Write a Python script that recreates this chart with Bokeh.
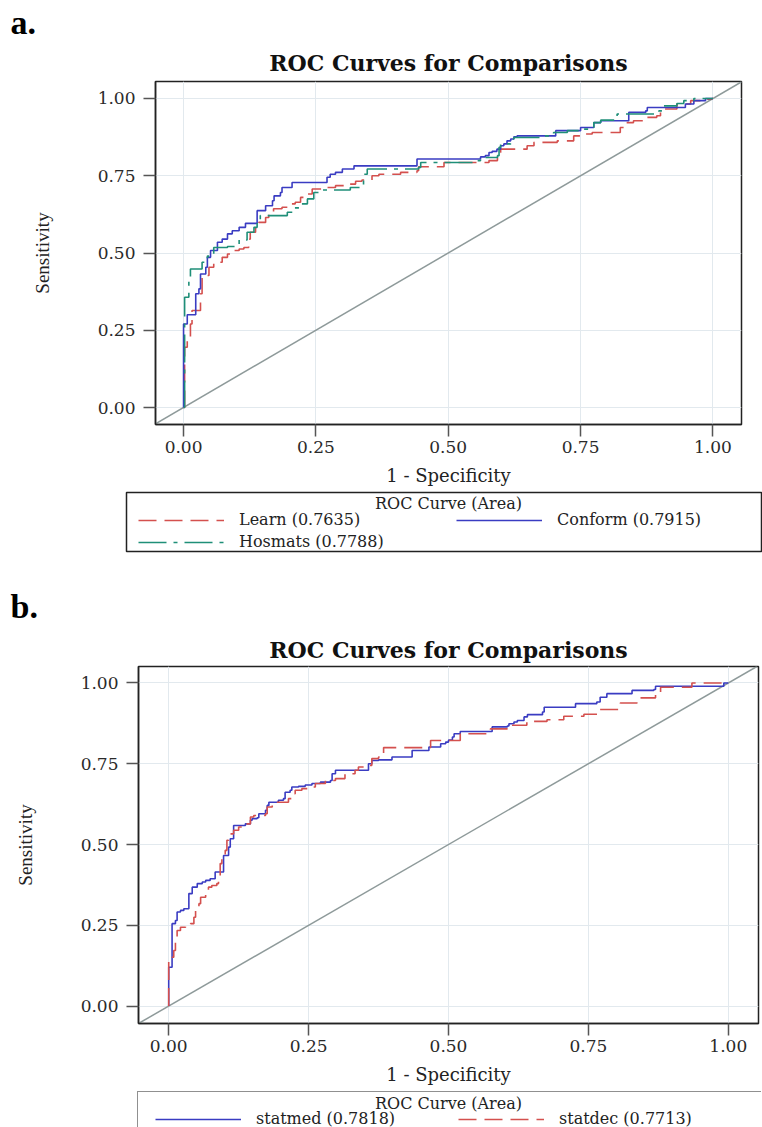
from bokeh.plotting import figure
from bokeh.models import (Range1d, FixedTicker, PrintfTickFormatter, Legend, LegendItem,
                          Title, Slope, Label)
from bokeh.embed import file_html
from bokeh.resources import INLINE

# ---------------- data ----------------
TICK_VALUES = [0.0, 0.25, 0.5, 0.75, 1.0]
TICK_LABELS = ["0.00", "0.25", "0.50", "0.75", "1.00"]

# panel a
learn_fpr = [0.000, 0.002, 0.007, 0.013, 0.016, 0.032, 0.035, 0.048, 0.057, 0.073,
             0.083, 0.092, 0.105, 0.114, 0.123, 0.126, 0.136, 0.142, 0.155, 0.161,
             0.170, 0.186, 0.199, 0.211, 0.221, 0.227, 0.243, 0.262, 0.287, 0.312,
             0.325, 0.337, 0.356, 0.369, 0.410, 0.441, 0.444, 0.492, 0.577, 0.593,
             0.599, 0.649, 0.662, 0.706, 0.737, 0.756, 0.772, 0.825, 0.832, 0.850,
             0.869, 0.894, 0.901, 0.907, 0.932, 0.958, 0.976, 0.998, 1.000]
learn_tpr = [0.000, 0.195, 0.227, 0.270, 0.314, 0.368, 0.427, 0.454, 0.470, 0.486,
             0.497, 0.508, 0.513, 0.518, 0.545, 0.567, 0.583, 0.599, 0.615, 0.632,
             0.643, 0.648, 0.659, 0.664, 0.680, 0.691, 0.707, 0.712, 0.718, 0.723,
             0.732, 0.736, 0.750, 0.755, 0.761, 0.766, 0.779, 0.793, 0.799, 0.825,
             0.836, 0.847, 0.858, 0.863, 0.879, 0.885, 0.890, 0.906, 0.922, 0.928,
             0.939, 0.944, 0.955, 0.966, 0.982, 0.993, 0.998, 1.000, 1.000]

conform_fpr = [0.000, 0.000, 0.007, 0.023, 0.029, 0.032, 0.042, 0.045, 0.051, 0.064,
               0.073, 0.083, 0.092, 0.105, 0.117, 0.139, 0.155, 0.168, 0.171, 0.183,
               0.186, 0.205, 0.271, 0.277, 0.287, 0.300, 0.322, 0.441, 0.561, 0.570,
               0.577, 0.583, 0.592, 0.599, 0.605, 0.611, 0.618, 0.624, 0.630, 0.703,
               0.750, 0.775, 0.788, 0.841, 0.873, 0.876, 0.948, 0.964, 0.986, 1.000]
conform_tpr = [0.000, 0.270, 0.300, 0.368, 0.384, 0.432, 0.454, 0.486, 0.508, 0.535,
               0.545, 0.562, 0.572, 0.583, 0.596, 0.637, 0.653, 0.669, 0.685, 0.696,
               0.712, 0.728, 0.745, 0.755, 0.761, 0.772, 0.782, 0.804, 0.811, 0.815,
               0.825, 0.829, 0.836, 0.847, 0.853, 0.863, 0.869, 0.876, 0.879, 0.896,
               0.906, 0.922, 0.928, 0.955, 0.960, 0.971, 0.982, 0.993, 1.000, 1.000]

hosmats_fpr = [0.000, 0.002, 0.010, 0.013, 0.035, 0.045, 0.051, 0.057, 0.083, 0.105,
               0.120, 0.133, 0.139, 0.145, 0.196, 0.208, 0.221, 0.234, 0.246, 0.259,
               0.315, 0.340, 0.347, 0.444, 0.448, 0.555, 0.561, 0.593, 0.596, 0.599,
               0.618, 0.624, 0.674, 0.699, 0.725, 0.750, 0.775, 0.788, 0.819, 0.898,
               0.907, 0.932, 0.945, 0.964, 1.000]
hosmats_tpr = [0.000, 0.357, 0.420, 0.448, 0.470, 0.490, 0.497, 0.518, 0.521, 0.542,
               0.567, 0.583, 0.602, 0.621, 0.632, 0.646, 0.659, 0.675, 0.696, 0.704,
               0.712, 0.755, 0.772, 0.777, 0.793, 0.799, 0.809, 0.815, 0.842, 0.853,
               0.869, 0.874, 0.879, 0.890, 0.896, 0.901, 0.922, 0.930, 0.950, 0.960,
               0.976, 0.984, 0.993, 1.000, 1.000]

# panel b
statmed_fpr = [0.000, 0.000, 0.006, 0.012, 0.015, 0.021, 0.027, 0.036, 0.042, 0.051,
               0.060, 0.066, 0.074, 0.083, 0.098, 0.107, 0.110, 0.116, 0.137, 0.146,
               0.149, 0.158, 0.161, 0.173, 0.176, 0.179, 0.196, 0.205, 0.208, 0.217,
               0.220, 0.232, 0.244, 0.256, 0.271, 0.289, 0.292, 0.298, 0.357, 0.363,
               0.375, 0.399, 0.435, 0.465, 0.486, 0.495, 0.500, 0.507, 0.510, 0.521,
               0.578, 0.605, 0.608, 0.617, 0.623, 0.635, 0.641, 0.668, 0.671, 0.727,
               0.765, 0.771, 0.783, 0.828, 0.867, 0.870, 0.992, 1.000]
statmed_tpr = [0.000, 0.120, 0.255, 0.265, 0.291, 0.296, 0.301, 0.348, 0.368, 0.379,
               0.384, 0.389, 0.394, 0.415, 0.466, 0.492, 0.518, 0.559, 0.564, 0.575,
               0.580, 0.583, 0.595, 0.606, 0.621, 0.631, 0.637, 0.642, 0.662, 0.668,
               0.678, 0.680, 0.684, 0.689, 0.693, 0.698, 0.719, 0.730, 0.750, 0.760,
               0.762, 0.771, 0.791, 0.802, 0.812, 0.817, 0.823, 0.833, 0.843, 0.850,
               0.864, 0.867, 0.874, 0.879, 0.884, 0.895, 0.902, 0.910, 0.925, 0.936,
               0.941, 0.956, 0.967, 0.977, 0.980, 0.990, 1.000, 1.000]

statdec_fpr = [0.000, 0.000, 0.006, 0.009, 0.012, 0.015, 0.021, 0.030, 0.039, 0.045,
               0.048, 0.054, 0.057, 0.066, 0.071, 0.077, 0.086, 0.089, 0.092, 0.095,
               0.101, 0.104, 0.107, 0.116, 0.125, 0.137, 0.146, 0.152, 0.173, 0.176,
               0.185, 0.214, 0.220, 0.226, 0.238, 0.250, 0.262, 0.280, 0.298, 0.315,
               0.333, 0.339, 0.357, 0.363, 0.375, 0.384, 0.468, 0.521, 0.569, 0.575,
               0.605, 0.640, 0.676, 0.706, 0.742, 0.768, 0.807, 0.837, 0.870, 0.879,
               0.935, 1.000]
statdec_tpr = [0.000, 0.141, 0.151, 0.172, 0.213, 0.234, 0.244, 0.249, 0.255, 0.275,
               0.296, 0.317, 0.337, 0.353, 0.368, 0.373, 0.379, 0.399, 0.441, 0.461,
               0.482, 0.513, 0.533, 0.544, 0.554, 0.564, 0.585, 0.590, 0.595, 0.616,
               0.631, 0.642, 0.657, 0.668, 0.673, 0.678, 0.689, 0.698, 0.704, 0.719,
               0.730, 0.740, 0.745, 0.766, 0.771, 0.800, 0.822, 0.843, 0.853, 0.858,
               0.869, 0.881, 0.886, 0.897, 0.903, 0.918, 0.938, 0.954, 0.972, 0.987,
               1.000, 1.000]

TITLE = "ROC Curves for Comparisons"
LEGEND_TITLE = "ROC Curve (Area)"

# ---------------- style ----------------
BLUE = "#3a3cc2"
RED = "#d4504e"
GREEN = "#1f8f78"
DIAG = "#8e9a9a"
SERIF = "DejaVu Serif"
FIG_W = 762


def make_panel(letter, curves, fig_h, b_left, b_right, b_top, b_bottom,
               xr, yr, title_standoff, letter_standoff):
    p = figure(width=FIG_W, height=fig_h, output_backend="svg", toolbar_location=None,
               title=None, x_range=Range1d(*xr), y_range=Range1d(*yr),
               min_border_left=b_left, min_border_right=b_right,
               min_border_top=b_top, min_border_bottom=b_bottom)

    # chart title (closest to the frame), then the panel letter above it
    p.add_layout(Title(text=TITLE, align="center", vertical_align="top", text_font=SERIF,
                       text_font_size="22px", text_font_style="bold",
                       text_color="#111111", standoff=title_standoff), "above")
    p.add_layout(Title(text=letter, align="left", vertical_align="top",
                       offset=10 - b_left,
                       text_font="Liberation Serif", text_font_size="34px",
                       text_font_style="bold", text_color="#000000",
                       standoff=letter_standoff), "above")

    p.background_fill_color = "white"
    p.border_fill_color = "white"
    p.outline_line_color = "#222222"
    p.outline_line_width = 1.5

    for ax in (p.xaxis[0], p.yaxis[0]):
        ax.ticker = FixedTicker(ticks=TICK_VALUES)
        ax.formatter = PrintfTickFormatter(format="%.2f")
        ax.major_label_overrides = dict(zip(TICK_VALUES, TICK_LABELS))
        ax.minor_tick_line_color = None
        ax.major_tick_in = 0
        ax.major_tick_out = 12
        ax.major_tick_line_color = "#555555"
        ax.major_tick_line_width = 1.5
        ax.axis_line_color = "#222222"
        ax.axis_line_width = 1.5
        ax.major_label_text_font = SERIF
        ax.major_label_text_font_size = "17px"
        ax.major_label_text_color = "#2a2a2a"
        ax.axis_label_text_font_style = "normal"
        ax.axis_label_text_color = "#222222"

    p.xaxis.axis_label = "1 - Specificity"
    p.xaxis.axis_label_text_font = SERIF
    p.xaxis.axis_label_text_font_size = "18px"
    p.xaxis.axis_label_standoff = 9
    p.xaxis.major_label_standoff = 4

    p.yaxis.axis_label = "Sensitivity"
    p.yaxis.axis_label_text_font = "Liberation Serif"
    p.yaxis.axis_label_text_font_size = "19px"
    p.yaxis.axis_label_standoff = 42
    p.yaxis.major_label_standoff = 8

    p.grid.grid_line_color = "#e2e9ee"
    p.grid.grid_line_width = 1

    p.add_layout(Slope(gradient=1, y_intercept=0, line_color=DIAG, line_width=1.5,
                       level="underlay"))

    for label, fpr, tpr, color, dash in curves:
        p.step(fpr, tpr, mode="after", line_color=color, line_width=1.6, line_dash=dash)
    return p


def make_legend_fig(curves, fig_h, box_left, b_top, b_bottom, title_x, title_y,
                    legend_loc, label_w, outline, pad):
    # strip under the plot that holds the legend box
    lf = figure(width=FIG_W, height=fig_h, output_backend="svg", toolbar_location=None,
                title=None, x_axis_location=None, y_axis_location=None,
                x_range=Range1d(2, 3), y_range=Range1d(2, 3),
                min_border_left=box_left, min_border_right=1,
                min_border_top=b_top, min_border_bottom=b_bottom)
    lf.outline_line_color = "#222222" if outline else None
    lf.outline_line_width = 1.5
    lf.background_fill_color = "white"
    lf.border_fill_color = "white"
    for g in lf.grid:
        g.visible = False

    # legend swatches: same series, kept outside this strip's visible range
    items = []
    for label, fpr, tpr, color, dash in curves:
        r = lf.step(fpr, tpr, mode="after", line_color=color, line_width=1.6,
                    line_dash=dash)
        items.append(LegendItem(label=label, renderers=[r]))
    legend = Legend(items=items, orientation="horizontal", ncols=2,
                    location=legend_loc, margin=1, padding=pad, spacing=3,
                    glyph_width=86, glyph_height=16, label_width=label_w,
                    label_height=16, label_standoff=15,
                    border_line_color=None if outline else "#222222",
                    border_line_width=1.5, background_fill_alpha=0.0,
                    label_text_font=SERIF, label_text_font_size="16px",
                    label_text_color="#222222")
    lf.add_layout(legend)
    lf.add_layout(Label(x=title_x, y=title_y, x_units="screen", y_units="screen",
                        text=LEGEND_TITLE, text_font=SERIF, text_font_size="16px",
                        text_color="#222222", text_align="center",
                        text_baseline="middle"))
    return lf


curves_a = [
    ("Learn (0.7635)", learn_fpr, learn_tpr, RED, "18 8"),
    ("Conform (0.7915)", conform_fpr, conform_tpr, BLUE, "solid"),
    ("Hosmats (0.7788)", hosmats_fpr, hosmats_tpr, GREEN, "28 7 4 7"),
]
curves_b = [
    ("statmed (0.7818)", statmed_fpr, statmed_tpr, BLUE, "solid"),
    ("statdec (0.7713)", statdec_fpr, statdec_tpr, RED, "18 8"),
]

pa = make_panel("a.", curves_a, fig_h=491, b_left=155, b_right=21, b_top=81, b_bottom=67,
                xr=(-0.053, 1.054), yr=(-0.055, 1.055), title_standoff=8,
                letter_standoff=6)
la = make_legend_fig(curves_a, fig_h=77, box_left=126, b_top=1, b_bottom=17,
                     title_x=322, title_y=48, legend_loc=(12, 0), label_w=214,
                     outline=True, pad=0)
pb = make_panel("b.", curves_b, fig_h=522, b_left=138, b_right=4, b_top=98, b_bottom=67,
                xr=(-0.054, 1.054), yr=(-0.054, 1.051), title_standoff=3,
                letter_standoff=17)
lb = make_legend_fig(curves_b, fig_h=37, box_left=136, b_top=0, b_bottom=0,
                     title_x=312, title_y=24, legend_loc="top_left", label_w=199,
                     outline=False, pad=17)

# independent roots, stacked top to bottom (no frame alignment between them)
p = [pa, la, pb, lb]
open("out.html", "w").write(file_html(p, INLINE))
